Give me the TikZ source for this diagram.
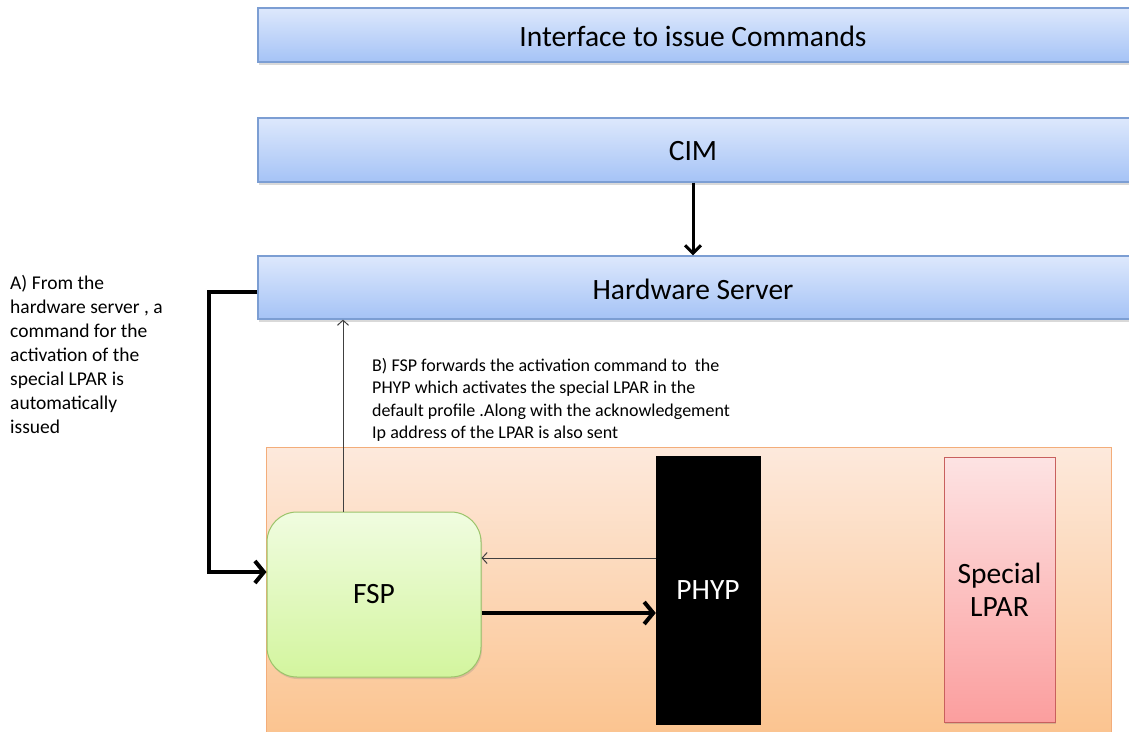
\documentclass[tikz,border=0pt]{standalone}
\usepackage{fontspec}
\setmainfont{Carlito}
\usetikzlibrary{arrows.meta,shadows}
\definecolor{bluetop}{HTML}{DDE8FC}
\definecolor{bluebot}{HTML}{A5C3F6}
\definecolor{blueline}{HTML}{7C9ED3}
\definecolor{orgtop}{HTML}{FDE9DC}
\definecolor{orgbot}{HTML}{FBC38E}
\definecolor{orgline}{HTML}{F3AD7A}
\definecolor{grntop}{HTML}{F0FCE0}
\definecolor{grnbot}{HTML}{D3F59E}
\definecolor{grnline}{HTML}{9BC46A}
\definecolor{redtop}{HTML}{FDE3E3}
\definecolor{redbot}{HTML}{FB9E9E}
\definecolor{redline}{HTML}{C8605E}
\tikzset{
  bluebox/.style={draw=blueline, line width=1.2pt, top color=bluetop, bottom color=bluebot,
    drop shadow={shadow xshift=1pt, shadow yshift=-2.5pt, opacity=0.3, fill=gray},
    minimum width=880pt, inner sep=0pt},
  bigfont/.style={font=\fontsize{29.5}{33}\selectfont},
  boxtext/.style={bigfont, inner sep=0pt},
  thickarr/.style={line width=4pt, -{Straight Barb[length=9pt,width=22pt]}},
  medarr/.style={line width=3pt, -{Straight Barb[length=8pt,width=16pt]}},
  thinarr/.style={line width=1pt, draw=black!75, -{Straight Barb[length=5pt,width=11pt]}},
  note/.style={align=left, anchor=north west, inner sep=0pt}
}
\begin{document}
\begin{tikzpicture}[x=1pt,y=-1pt]
\useasboundingbox (0,0) rectangle (1129,731);
% top boxes
\node[bluebox, minimum height=54pt] (iface) at (698,35) {};
\node[boxtext] (ifacet) at (693,36) {Interface to issue Commands};
\node[bluebox, minimum height=64pt] (cim) at (698,150) {};
\node[boxtext] (cimt) at (693,151) {CIM};
\node[bluebox, minimum height=63pt] (hw) at (698,287.5) {};
\node[boxtext] (hwt) at (693,289) {Hardware Server};
% machine box
\node[draw=orgline, line width=1pt, top color=orgtop, bottom color=orgbot,
  minimum width=845pt, minimum height=293pt, inner sep=0pt] (sys) at (688.5,594) {};
\node[draw=grnline, line width=1pt, top color=grntop, bottom color=grnbot, rounded corners=30pt,
  minimum width=214pt, minimum height=165pt, inner sep=0pt, bigfont,
  drop shadow={shadow xshift=1pt, shadow yshift=-2pt, opacity=0.25, fill=gray}] (fsp) at (374,594.5) {FSP};
\node[draw=black, fill=black, text=white, minimum width=104pt, minimum height=268pt, inner sep=0pt,
  bigfont] (phyp) at (708,590) {PHYP};
\node[draw=redline, line width=1pt, top color=redtop, bottom color=redbot,
  minimum width=111pt, minimum height=265pt, inner sep=0pt, align=center, bigfont,
  drop shadow={shadow xshift=1pt, shadow yshift=-2pt, opacity=0.3, fill=gray}] (lpar) at (999.5,589.5) {Special\\LPAR};
% arrows
\draw[medarr] (cim.south -| cimt.north) -- (hw.north -| cimt.north);
\coordinate (lx) at (209,0);
\coordinate (ay) at (0,572);
\draw[thickarr, line join=miter] ([yshift=-4.5pt]hw.west) -| (lx |- ay) -- (fsp.west |- ay);
\coordinate (ux) at (343,0);
\draw[thinarr] (fsp.north -| ux) -- (hw.south -| ux);
\coordinate (by) at (0,558);
\coordinate (cy) at (0,613);
\draw[thinarr] (phyp.west |- by) -- (fsp.east |- by);
\draw[thickarr] (fsp.east |- cy) -- (phyp.west |- cy);
% notes
\node[note, font=\fontsize{19.5}{24}\selectfont] (na) at (10,275) {A) From the\\hardware server , a\\command for the\\activation of the\\special LPAR is\\automatically\\issued};
\node[note, font=\fontsize{18}{22.4}\selectfont] (nb) at (372,358) {B) FSP forwards the activation command to\ \ the\\PHYP which activates the special LPAR in the\\default profile .Along with the acknowledgement\\Ip address of the LPAR is also sent};
\end{tikzpicture}
\end{document}
